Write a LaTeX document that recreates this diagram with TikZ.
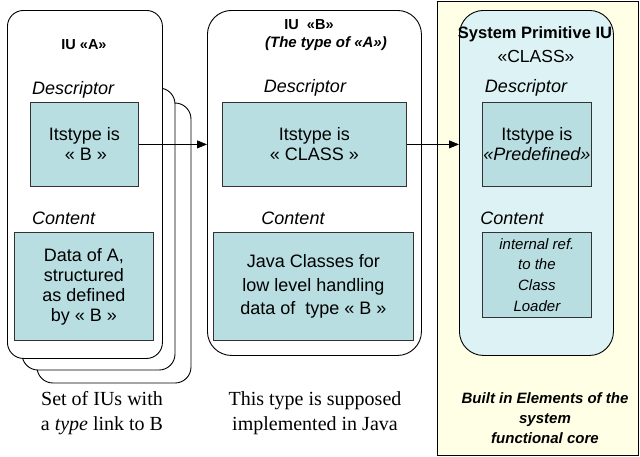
\documentclass[tikz,border=0pt]{standalone}
\usepackage{fontspec}
\setmainfont{Liberation Serif}
\newfontfamily\arial{Liberation Sans}
\usetikzlibrary{arrows.meta}
\definecolor{boxteal}{HTML}{B8DEE1}
\definecolor{panelyel}{HTML}{FFFFE6}
\definecolor{syscyan}{HTML}{DDF2F4}
\tikzset{
  card/.style={draw=black, line width=0.9pt, fill=white, rounded corners=16pt},
  tealbox/.style={draw=black!80, line width=0.8pt, fill=boxteal},
  lbl/.style={font=\arial\fontsize{18}{21}\selectfont\itshape, inner sep=0pt},
  boxtxt/.style={font=\arial\fontsize{18}{20}\selectfont, align=center, inner sep=0pt},
  ttl/.style={font=\arial\fontsize{14.5}{18}\selectfont\bfseries, inner sep=0pt, align=center},
  captxt/.style={font=\fontsize{20}{25.5}\selectfont, align=center, inner sep=0pt},
  link/.style={line width=0.8pt, -{Triangle[length=10pt,width=8pt]}}
}
\begin{document}
\begin{tikzpicture}[x=1pt,y=-1pt]
\useasboundingbox (0,0) rectangle (640,456);
% right panel
\node[draw=black, line width=0.8pt, fill=panelyel, minimum width=201pt, minimum height=454pt, inner sep=0pt, anchor=north west] (panel) at (437,1) {};
% stack of cards A
\draw[card] (37,103) rectangle (191,383);
\draw[card] (22,88) rectangle (175,370);
\node[card, minimum width=155pt, minimum height=348pt, inner sep=0pt, anchor=north west] (cardA) at (7,10) {};
\node[ttl] (titA) at (84,45) {IU «A»};
\node[lbl, anchor=west] (dlA) at (32,90) {Descriptor};
\node[tealbox, boxtxt, minimum width=108pt, minimum height=84pt, anchor=north west] (descA) at (30,102) {Itstype is\\\,« B »};
\node[lbl, anchor=west] (clA) at (32,218) {Content};
\node[tealbox, boxtxt, minimum width=139pt, minimum height=108pt, anchor=north west] (contA) at (14,232) {Data of A,\\structured\\as defined\\by « B »};
\node[captxt] (capA) at (102,413) {Set of IUs with\\a \textit{type} link to B};
% card B
\node[card, rounded corners=24pt, minimum width=214pt, minimum height=345pt, inner sep=0pt, anchor=north west] (cardB) at (207,10) {};
\node[ttl] (titB) at (309,25) {IU\ \ «B»};
\node[ttl, font=\arial\fontsize{15}{18}\selectfont\bfseries\itshape] (subB) at (326,44) {(The type of «A»)};
\node[lbl] (dlB) at (305,88) {Descriptor};
\node[tealbox, boxtxt, minimum width=184pt, minimum height=84pt, anchor=north west] (descB) at (222,102) {Itstype is\\« CLASS »};
\node[lbl] (clB) at (293,218) {Content};
\node[tealbox, boxtxt, font=\arial\fontsize{18}{23.5}\selectfont, minimum width=200pt, minimum height=108pt, anchor=north west] (contB) at (213,232) {Java Classes for\\low level handling\\data of\ \ type « B »};
\node[captxt] (capB) at (315,413) {This type is supposed\\implemented in Java};
% system card
\node[card, fill=syscyan, rounded corners=24pt, minimum width=154pt, minimum height=345pt, inner sep=0pt, anchor=north west] (cardC) at (459,10) {};
\node[ttl, font=\arial\fontsize{16.5}{19}\selectfont\bfseries] (titC) at (535,34) {System Primitive IU};
\node[ttl, font=\arial\fontsize{17.5}{19}\selectfont] (subC) at (536,56) {«CLASS»};
\node[lbl] (dlC) at (526,88) {Descriptor};
\node[tealbox, boxtxt, minimum width=109pt, minimum height=84pt, anchor=north west] (descC) at (482,102) {Itstype is\\\textit{«Predefined»}};
\node[lbl] (clC) at (512,218) {Content};
\node[tealbox, boxtxt, font=\arial\fontsize{15}{20.7}\selectfont\itshape, minimum width=109pt, minimum height=85pt, anchor=north west] (contC) at (482,232) {internal ref.\\to the\\Class\\Loader};
\node[font=\arial\fontsize{15}{20}\selectfont\bfseries\itshape, align=center, inner sep=0pt] (core) at (545,418) {Built in Elements of the\\system\\functional core};
% links
\draw[link] (descA.east) -- (descA.east -| cardB.west);
\draw[link] (descB.east) -- (descB.east -| cardC.west);
\end{tikzpicture}
\end{document}
